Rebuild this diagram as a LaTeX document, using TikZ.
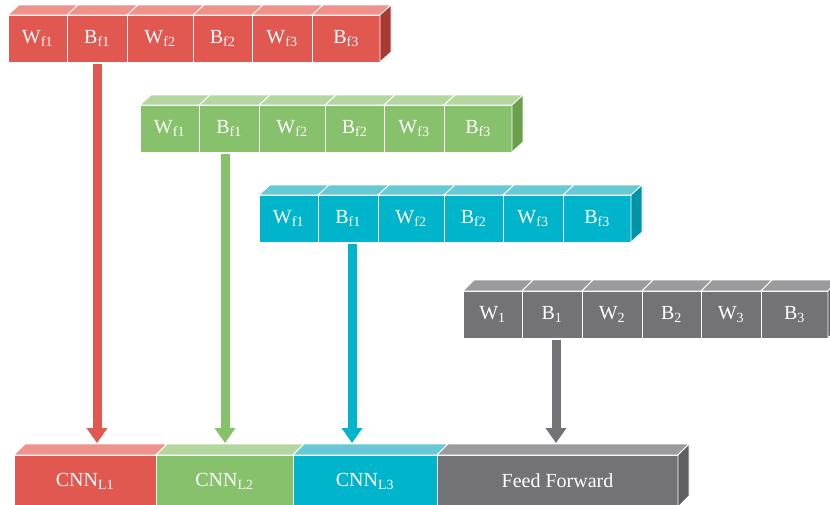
\documentclass[tikz,border=0pt]{standalone}
\usepackage{fontspec}
\setmainfont{Liberation Serif}
\usetikzlibrary{arrows.meta, positioning, calc}
\definecolor{redfront}{RGB}{224,88,80}
\definecolor{redtop}{RGB}{238,146,139}
\definecolor{redside}{RGB}{168,58,52}
\definecolor{greenfront}{RGB}{136,193,108}
\definecolor{greentop}{RGB}{180,215,160}
\definecolor{greenside}{RGB}{106,160,76}
\definecolor{cyanfront}{RGB}{0,181,203}
\definecolor{cyantop}{RGB}{104,201,214}
\definecolor{cyanside}{RGB}{0,148,166}
\definecolor{grayfront}{RGB}{115,115,118}
\definecolor{graytop}{RGB}{155,155,158}
\definecolor{grayside}{RGB}{95,95,98}

\begin{document}
\begin{tikzpicture}[
    x=1pt, y=-1pt,
    cell/.style={draw=white, line width=0.8pt, fill=#1front, text=white, minimum height=47pt, inner sep=0pt, outer sep=0pt, font=\fontsize{20}{24}\selectfont},
    topface/.style={draw=white, line width=0.8pt, fill=#1top},
    sideface/.style={draw=white, line width=0.8pt, fill=#1side},
    feed/.style={line width=9pt, draw=#1front, -{Triangle[width=20pt, length=15pt]}, shorten <=2pt}
]
\useasboundingbox (0,0) rectangle (830,504);

% Gewichte der ersten Schicht
\node[cell=red, minimum width=59pt] (rw1) at (37.5, 38.5) {W\textsubscript{f1}};
\node[cell=red, minimum width=60pt, right=0pt of rw1] (rb1) {B\textsubscript{f1}};
\node[cell=red, minimum width=66pt, right=0pt of rb1] (rw2) {W\textsubscript{f2}};
\node[cell=red, minimum width=59pt, right=0pt of rw2] (rb2) {B\textsubscript{f2}};
\node[cell=red, minimum width=60pt, right=0pt of rb2] (rw3) {W\textsubscript{f3}};
\node[cell=red, minimum width=68pt, right=0pt of rw3] (rb3) {B\textsubscript{f3}};
\foreach \c in {rw1, rb1, rw2, rb2, rw3, rb3}
    \draw[topface=red] (\c.north west) -- ++(11,-10) -- ($(\c.north east)+(11,-10)$) -- (\c.north east) -- cycle;
\draw[sideface=red] (rb3.north east) -- ++(11,-10) -- ($(rb3.south east)+(11,-10)$) -- (rb3.south east) -- cycle;

% Gewichte der zweiten Schicht
\node[cell=green, minimum width=59pt] (gw1) at (169.5, 128.5) {W\textsubscript{f1}};
\node[cell=green, minimum width=60pt, right=0pt of gw1] (gb1) {B\textsubscript{f1}};
\node[cell=green, minimum width=66pt, right=0pt of gb1] (gw2) {W\textsubscript{f2}};
\node[cell=green, minimum width=59pt, right=0pt of gw2] (gb2) {B\textsubscript{f2}};
\node[cell=green, minimum width=60pt, right=0pt of gb2] (gw3) {W\textsubscript{f3}};
\node[cell=green, minimum width=68pt, right=0pt of gw3] (gb3) {B\textsubscript{f3}};
\foreach \c in {gw1, gb1, gw2, gb2, gw3, gb3}
    \draw[topface=green] (\c.north west) -- ++(11,-10) -- ($(\c.north east)+(11,-10)$) -- (\c.north east) -- cycle;
\draw[sideface=green] (gb3.north east) -- ++(11,-10) -- ($(gb3.south east)+(11,-10)$) -- (gb3.south east) -- cycle;

% Gewichte der dritten Schicht
\node[cell=cyan, minimum width=59pt] (cw1) at (288.5, 218.5) {W\textsubscript{f1}};
\node[cell=cyan, minimum width=60pt, right=0pt of cw1] (cb1) {B\textsubscript{f1}};
\node[cell=cyan, minimum width=66pt, right=0pt of cb1] (cw2) {W\textsubscript{f2}};
\node[cell=cyan, minimum width=59pt, right=0pt of cw2] (cb2) {B\textsubscript{f2}};
\node[cell=cyan, minimum width=60pt, right=0pt of cb2] (cw3) {W\textsubscript{f3}};
\node[cell=cyan, minimum width=68pt, right=0pt of cw3] (cb3) {B\textsubscript{f3}};
\foreach \c in {cw1, cb1, cw2, cb2, cw3, cb3}
    \draw[topface=cyan] (\c.north west) -- ++(11,-10) -- ($(\c.north east)+(11,-10)$) -- (\c.north east) -- cycle;
\draw[sideface=cyan] (cb3.north east) -- ++(11,-10) -- ($(cb3.south east)+(11,-10)$) -- (cb3.south east) -- cycle;

% Gewichte des Feed-Forward-Teils
\node[cell=gray, minimum width=59pt] (fw1) at (492.5, 314.5) {W\textsubscript{1}};
\node[cell=gray, minimum width=60pt, right=0pt of fw1] (fb1) {B\textsubscript{1}};
\node[cell=gray, minimum width=60pt, right=0pt of fb1] (fw2) {W\textsubscript{2}};
\node[cell=gray, minimum width=59pt, right=0pt of fw2] (fb2) {B\textsubscript{2}};
\node[cell=gray, minimum width=60pt, right=0pt of fb2] (fw3) {W\textsubscript{3}};
\node[cell=gray, minimum width=67pt, right=0pt of fw3] (fb3) {B\textsubscript{3}};
\foreach \c in {fw1, fb1, fw2, fb2, fw3, fb3}
    \draw[topface=gray] (\c.north west) -- ++(11,-11) -- ($(\c.north east)+(11,-11)$) -- (\c.north east) -- cycle;
\draw[sideface=gray] (fb3.north east) -- ++(11,-11) -- ($(fb3.south east)+(11,-11)$) -- (fb3.south east) -- cycle;

% Gesamtmodell unten
\node[cell=red, minimum width=142pt, minimum height=52pt] (cnn1) at (85, 481) {CNN\textsubscript{L1}};
\node[cell=green, minimum width=137pt, minimum height=52pt, right=0pt of cnn1] (cnn2) {CNN\textsubscript{L2}};
\node[cell=cyan, minimum width=144pt, minimum height=52pt, right=0pt of cnn2] (cnn3) {CNN\textsubscript{L3}};
\node[cell=gray, minimum width=241pt, minimum height=52pt, right=0pt of cnn3] (ff) {Feed Forward};
\draw[topface=red] (cnn1.north west) -- ++(11,-11) -- ($(cnn1.north east)+(11,-11)$) -- (cnn1.north east) -- cycle;
\draw[topface=green] (cnn2.north west) -- ++(11,-11) -- ($(cnn2.north east)+(11,-11)$) -- (cnn2.north east) -- cycle;
\draw[topface=cyan] (cnn3.north west) -- ++(11,-11) -- ($(cnn3.north east)+(11,-11)$) -- (cnn3.north east) -- cycle;
\draw[topface=gray] (ff.north west) -- ++(11,-11) -- ($(ff.north east)+(11,-11)$) -- (ff.north east) -- cycle;
\draw[sideface=gray] (ff.north east) -- ++(11,-11) -- ($(ff.south east)+(11,-11)$) -- (ff.south east) -- cycle;
\coordinate (base) at ($(cnn1.north)+(0,-12)$);

% Pfeile
\draw[feed=red] (rb1.south) -- (rb1.south |- base);
\draw[feed=green] ([xshift=-4pt]gb1.south) -- ([xshift=-4pt]gb1.south |- base);
\draw[feed=cyan] ([xshift=4pt]cb1.south) -- ([xshift=4pt]cb1.south |- base);
\draw[feed=gray] ([xshift=4pt]fb1.south) -- ([xshift=4pt]fb1.south |- base);

\end{tikzpicture}
\end{document}
